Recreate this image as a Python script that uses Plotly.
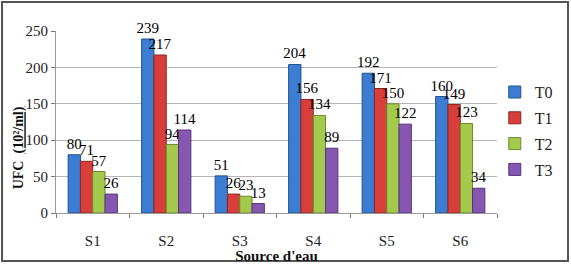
import plotly.graph_objects as go

categories = ["S1", "S2", "S3", "S4", "S5", "S6"]
series_names = ["T0", "T1", "T2", "T3"]
t0 = [80, 239, 51, 204, 192, 160]
t1 = [71, 217, 26, 156, 171, 149]
t2 = [57, 94, 23, 134, 150, 123]
t3 = [26, 114, 13, 89, 122, 34]
y_ticks = [0, 50, 100, 150, 200, 250]

colors = ["#3B7DD3", "#D83F3B", "#A3CA4C", "#8557B0"]
edge = ["#23528F", "#8E2522", "#6C8A2C", "#55347A"]

font = "Times New Roman, Liberation Serif, serif"

fig = go.Figure()
for i, (name, vals) in enumerate(zip(series_names, [t0, t1, t2, t3])):
    fig.add_trace(go.Bar(
        x=categories, y=vals, name=name, legendgroup=name,
        marker=dict(color=colors[i], line=dict(color=edge[i], width=1)),
        text=[str(v) for v in vals], textposition="outside",
        textfont=dict(family=font, size=15, color="#000"),
        cliponaxis=False,
    ))

fig.update_layout(
    width=571, height=264,
    margin=dict(l=56, r=74, t=31, b=51, autoexpand=False),
    paper_bgcolor="white", plot_bgcolor="white",
    barmode="group", bargap=0.33, bargroupgap=0,
    uniformtext=dict(minsize=15, mode="show"),
    font=dict(family=font, size=14, color="#222"),
    showlegend=True,
    legend=dict(x=0.995, y=0.45, xanchor="left", yanchor="middle",
                font=dict(family=font, size=16, color="#222"),
                tracegroupgap=2, itemwidth=30, bgcolor="rgba(0,0,0,0)"),
    xaxis=dict(showgrid=False, showline=True, linecolor="#9A9A9A", linewidth=1,
               automargin=False,
               ticks="outside", tickson="boundaries", ticklen=4, tickcolor="#777",
               tickfont=dict(family=font, size=15, color="#222"),
               ticklabelstandoff=14,
               title=dict(text="<b>Source d'eau</b>", standoff=0,
                          font=dict(family=font, size=15, color="#111"))),
    yaxis=dict(range=[0, 250], tickvals=y_ticks, showgrid=True, gridcolor="#B5B5B5",
               automargin=False,
               gridwidth=1, showline=True, linecolor="#9A9A9A", ticks="outside",
               ticklen=4, tickcolor="#777", zeroline=False,
               tickfont=dict(family=font, size=15, color="#222")),
    annotations=[dict(
        text="<b>UFC  <span style='text-decoration:underline'>(10²/ml)</span></b>",
        textangle=-90, xref="paper", yref="paper", x=-0.082, y=0.36,
        xanchor="center", yanchor="middle", showarrow=False,
        font=dict(family=font, size=14, color="#111"))],
    shapes=[dict(type="rect", xref="paper", yref="paper",
                 x0=-0.1224, x1=1.161, y0=-0.264, y1=1.159,
                 line=dict(color="#555", width=2), fillcolor="rgba(0,0,0,0)",
                 layer="below")],
)

fig.write_html("out.html")
